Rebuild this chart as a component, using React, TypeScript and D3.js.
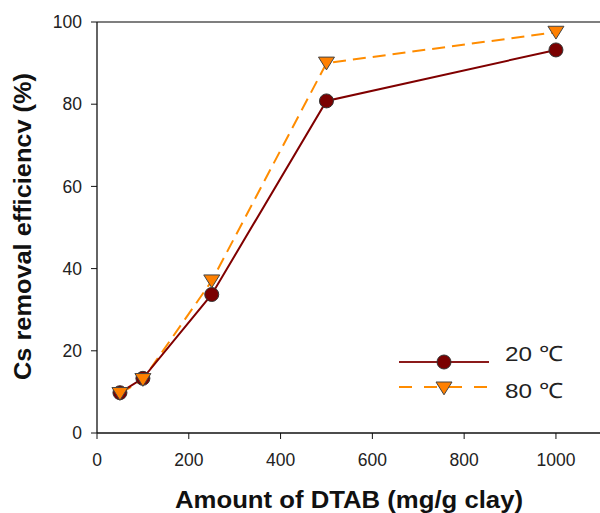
import * as d3 from "d3";

const doses = [50, 100, 250, 500, 1000];
const eff20 = [9.8, 13.3, 33.7, 80.8, 93.2];
const eff80 = [9.6, 13.0, 37.0, 90.0, 97.5];
const xTicks = [0, 200, 400, 600, 800, 1000];
const yTicks = [0, 20, 40, 60, 80, 100];
const seriesNames = ["20 ℃", "80 ℃"];

const W = 600;
const H = 513;
const margin = { top: 22, right: 0, bottom: 80, left: 97 };

export default function App() {
  const x = d3.scaleLinear().domain([0, 1096]).range([margin.left, W - margin.right]);
  const y = d3.scaleLinear().domain([0, 100]).range([H - margin.bottom, margin.top]);

  const line = d3
    .line<number>()
    .x((_, i) => x(doses[i]))
    .y((d) => y(d));

  const tri = (cx: number, cy: number, s = 8) =>
    `M${cx - s},${cy - s * 0.75} L${cx + s},${cy - s * 0.75} L${cx},${cy + s * 0.85} Z`;

  const font = "Arial, Liberation Sans, sans-serif";
  const tickFont = { fontFamily: font, fontSize: 17.5, fill: "#222" };
  const legendLineY = [362, 387];
  const legendTextY = [361, 398];
  const legX0 = 399;
  const legX1 = 489;

  return (
    <svg width={W} height={H} style={{ position: "absolute", left: 0, top: 0 }}>
      <rect width={W} height={H} fill="#fff" />
      {/* frame */}
      <line x1={margin.left} x2={W} y1={y(100)} y2={y(100)} stroke="#555" strokeWidth={1.3} />
      <line x1={margin.left} x2={W} y1={y(0)} y2={y(0)} stroke="#111" strokeWidth={1.3} />
      <line x1={margin.left} x2={margin.left} y1={y(0)} y2={y(100)} stroke="#111" strokeWidth={1.3} />

      {yTicks.map((t) => (
        <g key={"y" + t}>
          <line x1={margin.left - 6} x2={margin.left} y1={y(t)} y2={y(t)} stroke="#111" />
          <text x={margin.left - 15} y={y(t)} dy="0.35em" textAnchor="end" {...tickFont}>
            {t}
          </text>
        </g>
      ))}
      {xTicks.map((t) => (
        <g key={"x" + t}>
          <line x1={x(t)} x2={x(t)} y1={y(0)} y2={y(0) + 6} stroke="#111" />
          <text x={x(t)} y={y(0) + 33} textAnchor="middle" {...tickFont}>
            {t}
          </text>
        </g>
      ))}

      <text
        transform={`translate(31,226.5) rotate(-90)`}
        textAnchor="middle"
        fontFamily={font}
        fontWeight="bold"
        fontSize={23}
        fill="#111"
        textLength={307}
        lengthAdjust="spacingAndGlyphs"
      >
        Cs removal efficiencv (%)
      </text>
      <text
        x={349}
        y={508}
        textAnchor="middle"
        fontFamily={font}
        fontWeight="bold"
        fontSize={23}
        fill="#111"
        textLength={348}
        lengthAdjust="spacingAndGlyphs"
      >
        Amount of DTAB (mg/g clay)
      </text>

      {/* 80 C series */}
      <path d={line(eff80) ?? ""} fill="none" stroke="#ff8c00" strokeWidth={2} strokeDasharray="13,7" />
      {/* 20 C series */}
      <path d={line(eff20) ?? ""} fill="none" stroke="#800000" strokeWidth={2} />
      {eff20.map((v, i) => (
        <circle key={"c" + i} cx={x(doses[i])} cy={y(v)} r={7} fill="#7a0000" stroke="#333" strokeWidth={1} />
      ))}
      {eff80.map((v, i) => (
        <path key={"t" + i} d={tri(x(doses[i]), y(v))} fill="#ff8000" stroke="#444" strokeWidth={1} />
      ))}

      {/* legend */}
      <line x1={legX0} x2={legX1} y1={legendLineY[0]} y2={legendLineY[0]} stroke="#8b1a1a" strokeWidth={2} />
      <circle cx={444} cy={legendLineY[0]} r={7} fill="#7a0000" stroke="#333" />
      <line x1={legX0} x2={legX1} y1={legendLineY[1]} y2={legendLineY[1]} stroke="#ff8c00" strokeWidth={2} strokeDasharray="13,12" />
      <path d={tri(444, legendLineY[1] + 1)} fill="#ff8000" stroke="#444" />
      {seriesNames.map((n, i) => (
        <text
          key={n}
          x={505}
          y={legendTextY[i]}
          fontFamily={font}
          fontSize={21}
          fill="#222"
          textLength={58}
          lengthAdjust="spacingAndGlyphs"
        >
          {n}
        </text>
      ))}
    </svg>
  );
}
